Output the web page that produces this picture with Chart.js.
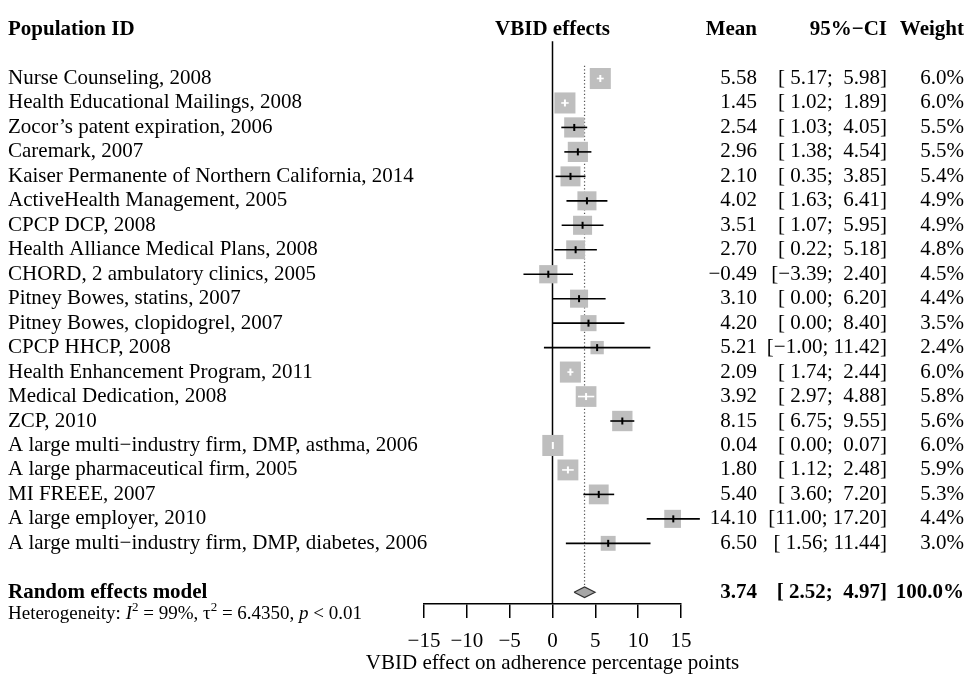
<!DOCTYPE html>
<html>
<head>
<meta charset="utf-8">
<title>VBID effects forest plot</title>
<script src="https://cdn.jsdelivr.net/npm/chart.js@4.4.1/dist/chart.umd.min.js"></script>
<style>
  body { margin: 0; background: #fff; }
  #wrap { width: 968px; height: 682px; position: relative; }
</style>
</head>
<body>
<div id="wrap"><canvas id="myChart"></canvas></div>
<script>
// study data
let names = [
  "Nurse Counseling, 2008",
  "Health Educational Mailings, 2008",
  "Zocor\u2019s patent expiration, 2006",
  "Caremark, 2007",
  "Kaiser Permanente of Northern California, 2014",
  "ActiveHealth Management, 2005",
  "CPCP DCP, 2008",
  "Health Alliance Medical Plans, 2008",
  "CHORD, 2 ambulatory clinics, 2005",
  "Pitney Bowes, statins, 2007",
  "Pitney Bowes, clopidogrel, 2007",
  "CPCP HHCP, 2008",
  "Health Enhancement Program, 2011",
  "Medical Dedication, 2008",
  "ZCP, 2010",
  "A large multi\u2212industry firm, DMP, asthma, 2006",
  "A large pharmaceutical firm, 2005",
  "MI FREEE, 2007",
  "A large employer, 2010",
  "A large multi\u2212industry firm, DMP, diabetes, 2006"
];
let means = [5.58, 1.45, 2.54, 2.96, 2.10, 4.02, 3.51, 2.70, -0.49, 3.10, 4.20, 5.21, 2.09, 3.92, 8.15, 0.04, 1.80, 5.40, 14.10, 6.50];
let lower = [5.17, 1.02, 1.03, 1.38, 0.35, 1.63, 1.07, 0.22, -3.39, 0.00, 0.00, -1.00, 1.74, 2.97, 6.75, 0.00, 1.12, 3.60, 11.00, 1.56];
let upper = [5.98, 1.89, 4.05, 4.54, 3.85, 6.41, 5.95, 5.18, 2.40, 6.20, 8.40, 11.42, 2.44, 4.88, 9.55, 0.07, 2.48, 7.20, 17.20, 11.44];
let weights = [6.0, 6.0, 5.5, 5.5, 5.4, 4.9, 4.9, 4.8, 4.5, 4.4, 3.5, 2.4, 6.0, 5.8, 5.6, 6.0, 5.9, 5.3, 4.4, 3.0];

// random effects model
let pooledMean = 3.74;
let pooledLower = 2.52;
let pooledUpper = 4.97;
let pooledWeight = 100.0;

let xTicks = [-15, -10, -5, 0, 5, 10, 15];
let xTitle = "VBID effect on adherence percentage points";

const pooledRow = names.length + 1;
const serif = "'Liberation Serif', 'DejaVu Serif', serif";

function boxSide(w) {
  return 8.6 * Math.sqrt(w);
}

function fmt(v) {
  return v < 0 ? "\u2212" + Math.abs(v).toFixed(2) : v.toFixed(2);
}

function pad(v) {
  let s = fmt(v);
  while (s.length < 5) s = " " + s;
  return s;
}

function ciText(lo, hi) {
  return "[" + pad(lo) + "; " + pad(hi) + "]";
}

// reference lines under the boxes
const refLines = {
  id: "refLines",
  beforeDatasetsDraw(chart) {
    let ctx = chart.ctx;
    let x = chart.scales.x;
    let y = chart.scales.y;
    ctx.save();
    // line of no effect
    ctx.strokeStyle = "#000";
    ctx.lineWidth = 1.5;
    ctx.beginPath();
    ctx.moveTo(x.getPixelForValue(0), y.getPixelForValue(-1.52));
    ctx.lineTo(x.getPixelForValue(0), chart.chartArea.bottom);
    ctx.stroke();
    // pooled estimate, dotted
    ctx.strokeStyle = "#555";
    ctx.lineWidth = 1.2;
    ctx.setLineDash([1.2, 2.3]);
    ctx.beginPath();
    ctx.moveTo(x.getPixelForValue(pooledMean), y.getPixelForValue(-0.52));
    ctx.lineTo(x.getPixelForValue(pooledMean), y.getPixelForValue(pooledRow - 0.22));
    ctx.stroke();
    ctx.restore();
  }
};

// CI whiskers, mean ticks and all the text columns
const forestText = {
  id: "forestText",
  afterDatasetsDraw(chart) {
    let ctx = chart.ctx;
    let x = chart.scales.x;
    let y = chart.scales.y;
    ctx.save();

    means.forEach((m, i) => {
      let py = y.getPixelForValue(i);
      let pc = x.getPixelForValue(m);
      let pl = x.getPixelForValue(lower[i]);
      let ph = x.getPixelForValue(upper[i]);
      let half = boxSide(weights[i]) / 2;
      let inside = pl >= pc - half && ph <= pc + half;
      ctx.strokeStyle = inside ? "#fff" : "#000";
      ctx.lineWidth = 1.6;
      ctx.beginPath();
      ctx.moveTo(pl, py);
      ctx.lineTo(ph, py);
      ctx.stroke();
      ctx.lineWidth = 2;
      ctx.beginPath();
      ctx.moveTo(pc, py - 3.5);
      ctx.lineTo(pc, py + 3.5);
      ctx.stroke();
    });

    ctx.fillStyle = "#000";
    ctx.textBaseline = "middle";

    // header row
    let hy = y.getPixelForValue(-2);
    ctx.font = "bold 21px " + serif;
    ctx.textAlign = "left";
    ctx.fillText("Population ID", 8, hy);
    ctx.textAlign = "center";
    ctx.fillText("VBID effects", x.getPixelForValue(0), hy);
    ctx.textAlign = "right";
    ctx.fillText("Mean", 757, hy);
    ctx.fillText("95%\u2212CI", 887, hy);
    ctx.fillText("Weight", 964, hy);

    // study rows
    ctx.font = "21px " + serif;
    names.forEach((n, i) => {
      let py = y.getPixelForValue(i);
      ctx.textAlign = "left";
      ctx.fillText(n, 8, py);
      ctx.textAlign = "right";
      ctx.fillText(fmt(means[i]), 757, py);
      ctx.fillText(ciText(lower[i], upper[i]), 887, py);
      ctx.fillText(weights[i].toFixed(1) + "%", 964, py);
    });

    // pooled row
    let ry = y.getPixelForValue(pooledRow);
    ctx.font = "bold 21px " + serif;
    ctx.textAlign = "left";
    ctx.fillText("Random effects model", 8, ry);
    ctx.textAlign = "right";
    ctx.fillText(fmt(pooledMean), 757, ry);
    ctx.fillText(ciText(pooledLower, pooledUpper), 887, ry);
    ctx.fillText(pooledWeight.toFixed(1) + "%", 964, ry);

    // heterogeneity line
    let hgy = y.getPixelForValue(pooledRow + 0.9);
    let cx = 8;
    let parts = [
      ["Heterogeneity: ", "19px", 0],
      ["I", "italic 19px", 0],
      ["2", "13px", -7],
      [" = 99%, ", "19px", 0],
      ["\u03c4", "19px", 0],
      ["2", "13px", -7],
      [" = 6.4350, ", "19px", 0],
      ["p", "italic 19px", 0],
      [" < 0.01", "19px", 0]
    ];
    ctx.textAlign = "left";
    parts.forEach(p => {
      ctx.font = p[1] + " " + serif;
      ctx.fillText(p[0], cx, hgy + p[2]);
      cx += ctx.measureText(p[0]).width;
    });

    // x axis title, drawn here so it is not squeezed to the axis width
    ctx.font = "21px " + serif;
    ctx.textAlign = "center";
    ctx.fillText(xTitle, (chart.chartArea.left + chart.chartArea.right) / 2, 663);

    ctx.restore();
  }
};

let ctx = document.getElementById("myChart").getContext("2d");

let myChart = new Chart(ctx, {
  type: "scatter",
  data: {
    datasets: [
      {
        label: "Studies",
        data: means.map((m, i) => ({ x: m, y: i })),
        pointStyle: "rect",
        pointRadius: weights.map(w => boxSide(w) / 2 / Math.SQRT1_2),
        backgroundColor: "#BEBEBE",
        borderWidth: 0
      },
      {
        label: "Random effects model",
        type: "line",
        data: [
          { x: pooledLower, y: pooledRow },
          { x: pooledMean, y: pooledRow - 0.22 },
          { x: pooledUpper, y: pooledRow },
          { x: pooledMean, y: pooledRow + 0.22 },
          { x: pooledLower, y: pooledRow }
        ],
        fill: "shape",
        backgroundColor: "#A6A6A6",
        borderColor: "#333",
        borderWidth: 1.2,
        pointRadius: 0,
        tension: 0
      }
    ]
  },
  options: {
    responsive: true,
    maintainAspectRatio: false,
    animation: false,
    events: [],
    layout: { padding: { left: 424, right: 287, top: 2, bottom: 0 } },
    plugins: {
      legend: { display: false },
      tooltip: { enabled: false }
    },
    scales: {
      x: {
        type: "linear",
        min: -15,
        max: 15,
        afterBuildTicks: axis => {
          axis.ticks = xTicks.map(v => ({ value: v }));
        },
        afterFit: axis => {
          axis.height = 78;
        },
        grid: {
          drawOnChartArea: false,
          drawTicks: true,
          tickLength: 14,
          color: "#000",
          lineWidth: 1.5
        },
        border: { display: true, color: "#000", width: 1.5 },
        ticks: {
          color: "#000",
          padding: 11,
          maxRotation: 0,
          font: { family: serif, size: 21 },
          callback: v => (v < 0 ? "\u2212" + Math.abs(v) : String(v))
        },
        title: { display: false }
      },
      y: {
        type: "linear",
        reverse: true,
        min: -2.6,
        max: 21.48,
        display: false
      }
    }
  },
  plugins: [refLines, forestText]
});
</script>
</body>
</html>
